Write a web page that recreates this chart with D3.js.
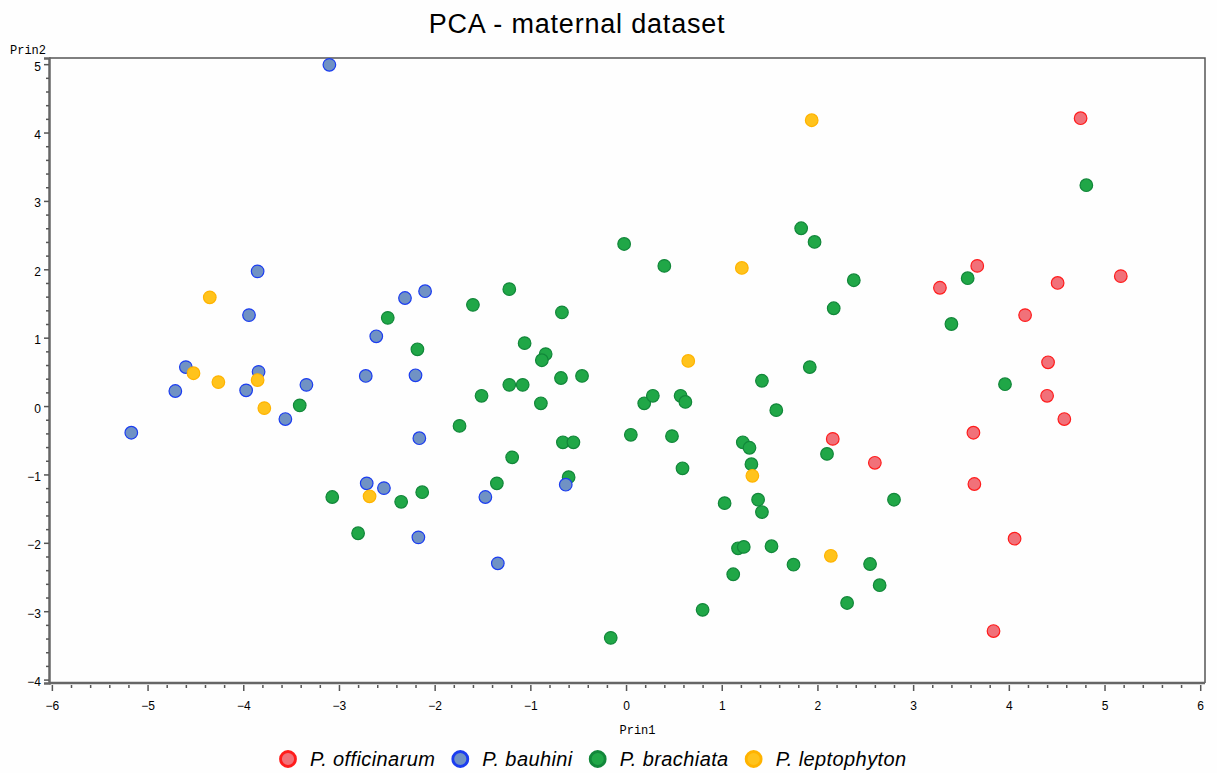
<!DOCTYPE html>
<html>
<head>
<meta charset="utf-8">
<script src="https://cdn.jsdelivr.net/npm/d3@7"></script>
<style>
  body { margin: 0; background: #fefefe; }
  svg { display: block; }
  .tick text { font-family: "Liberation Sans", Arial, sans-serif; font-size: 12px; fill: #000; }
  .axis-label { font-family: "Liberation Mono", monospace; font-size: 12px; fill: #000; }
  .legend text { font-family: "Liberation Sans", Arial, sans-serif; font-size: 20px; font-style: italic; letter-spacing: 0.4px; }
</style>
</head>
<body>
<script>

/*
 * Data.
 */

var species = ['P. officinarum', 'P. bauhini', 'P. brachiata', 'P. leptophyton'];

var officinarum = [
  [4.75, 4.21], [3.67, 2.05], [3.28, 1.73], [4.51, 1.80], [5.17, 1.90],
  [4.17, 1.33], [4.41, 0.64], [4.40, 0.15], [4.58, -0.19], [3.63, -0.39],
  [2.16, -0.48], [2.60, -0.83], [3.64, -1.14], [4.06, -1.94], [3.84, -3.29]
];

var bauhini = [
  [-3.10, 4.99], [-3.85, 1.97], [-3.94, 1.33], [-4.60, 0.57], [-4.71, 0.22],
  [-3.84, 0.50], [-3.97, 0.23], [-3.34, 0.31], [-3.56, -0.19], [-5.17, -0.39],
  [-2.10, 1.68], [-2.31, 1.58], [-2.61, 1.02], [-2.72, 0.44], [-2.20, 0.45],
  [-2.16, -0.47], [-2.71, -1.13], [-2.53, -1.20], [-2.17, -1.92], [-1.47, -1.33],
  [-1.34, -2.30], [-0.63, -1.15]
];

var brachiata = [
  [-3.41, 0.01], [-2.49, 1.29], [-2.18, 0.83], [-1.60, 1.48], [-1.22, 1.71],
  [-0.67, 1.37], [-1.06, 0.92], [-0.84, 0.76], [-0.88, 0.67], [-0.68, 0.41],
  [-0.46, 0.44], [-1.22, 0.31], [-1.08, 0.31], [-1.51, 0.15], [-0.89, 0.04],
  [-1.74, -0.29], [-0.66, -0.53], [-0.55, -0.53], [-1.19, -0.75], [-1.35, -1.13],
  [-0.60, -1.04], [-3.07, -1.33], [-2.80, -1.86], [-2.35, -1.40], [-2.13, -1.26],
  [-0.16, -3.39], [-0.02, 2.37], [0.40, 2.05], [0.19, 0.04], [0.28, 0.15],
  [0.05, -0.42], [0.57, 0.15], [0.62, 0.06], [0.48, -0.44], [0.59, -0.91],
  [0.80, -2.98], [1.03, -1.42], [1.12, -2.46], [1.17, -2.08], [1.23, -2.06],
  [1.22, -0.53], [1.29, -0.61], [1.31, -0.85], [1.38, -1.37], [1.42, -1.55],
  [1.52, -2.05], [1.42, 0.37], [1.57, -0.06], [1.75, -2.32], [1.92, 0.57],
  [1.83, 2.60], [1.97, 2.40], [2.38, 1.84], [2.17, 1.43], [2.10, -0.70],
  [2.80, -1.37], [2.55, -2.31], [2.65, -2.62], [2.31, -2.88], [3.57, 1.87],
  [3.40, 1.20], [3.96, 0.32], [4.81, 3.23]
];

var leptophyton = [
  [-4.35, 1.59], [-4.52, 0.48], [-4.26, 0.35], [-3.85, 0.38], [-3.78, -0.03],
  [-2.68, -1.32], [1.94, 4.18], [1.21, 2.02], [0.65, 0.66], [1.32, -1.02],
  [2.14, -2.19]
];

var xTicks = [-6, -5, -4, -3, -2, -1, 0, 1, 2, 3, 4, 5, 6];
var yTicks = [-4, -3, -2, -1, 0, 1, 2, 3, 4, 5];

// Fill and outline per species.
var fills = ['#f17179', '#7092c4', '#20a747', '#ffc31c'];
var strokes = ['#ff1c1c', '#1b3df0', '#12873a', '#ffb300'];

/*
 * Layout.
 */

var width = 1217, height = 773;
var plot = { left: 49, top: 58, right: 1205, bottom: 683 };

var svg = d3.select('body').append('svg')
  .attr('width', width)
  .attr('height', height);

var x = d3.scaleLinear().domain([-6.03, 6.05]).range([plot.left, plot.right]);
var y = d3.scaleLinear().domain([-4.05, 5.09]).range([plot.bottom, plot.top]);

// Title.
svg.append('text')
  .attr('x', 577)
  .attr('y', 33)
  .attr('text-anchor', 'middle')
  .style('font-family', '"Liberation Sans", Arial, sans-serif')
  .style('font-size', '27px')
  .style('letter-spacing', '0.8px')
  .text('PCA - maternal dataset');

// Frame: top and right edges.
svg.append('path')
  .attr('d', 'M' + plot.left + ',' + plot.top + 'H' + plot.right + 'V' + plot.bottom)
  .attr('fill', 'none')
  .attr('stroke', '#555')
  .attr('stroke-width', 1.5);

/*
 * Axes with minor ticks.
 */

var minorX = d3.range(-6, 6.001, 0.2).filter(function(v) { return Math.abs(v - Math.round(v)) > 0.01; });
var minorY = d3.range(-4, 5.001, 0.2).filter(function(v) { return Math.abs(v - Math.round(v)) > 0.01; });

var fmt = function(d) { return d < 0 ? '\u2212' + Math.abs(d) : String(d); };

var xAxis = svg.append('g')
  .attr('transform', 'translate(0,' + (plot.bottom + 2) + ')')
  .call(d3.axisBottom(x).tickValues(xTicks).tickFormat(fmt).tickSize(6).tickPadding(10));

svg.append('g')
  .attr('transform', 'translate(0,' + (plot.bottom + 2) + ')')
  .call(d3.axisBottom(x).tickValues(minorX).tickFormat('').tickSize(3))
  .select('.domain').remove();

var yAxis = svg.append('g')
  .attr('transform', 'translate(' + plot.left + ',0)')
  .call(d3.axisLeft(y).tickValues(yTicks).tickFormat(fmt).tickSize(5).tickPadding(3));

yAxis.selectAll('.tick text').attr('dy', '0.5em');

svg.append('g')
  .attr('transform', 'translate(' + plot.left + ',0)')
  .call(d3.axisLeft(y).tickValues(minorY).tickFormat('').tickSize(3))
  .select('.domain').remove();

svg.selectAll('.tick line').attr('stroke', '#555').attr('stroke-width', 1.5);
xAxis.select('.domain').remove();
yAxis.select('.domain').attr('stroke', '#666').attr('stroke-width', 2.5);

// Bottom axis line spans the frame.
svg.append('line')
  .attr('x1', plot.left).attr('x2', plot.right)
  .attr('y1', plot.bottom).attr('y2', plot.bottom)
  .attr('stroke', '#666')
  .attr('stroke-width', 2.5);

// Axis labels.
svg.append('text').attr('class', 'axis-label')
  .attr('x', 10).attr('y', 54)
  .text('Prin2');

svg.append('text').attr('class', 'axis-label')
  .attr('x', x(0.12)).attr('y', 734)
  .attr('text-anchor', 'middle')
  .text('Prin1');

/*
 * Points: drawn in order red, green, blue, orange.
 */

var groups = [
  { i: 0, data: officinarum },
  { i: 2, data: brachiata },
  { i: 1, data: bauhini },
  { i: 3, data: leptophyton }
];

groups.forEach(function(g) {
  svg.append('g').selectAll('circle')
    .data(g.data)
    .enter().append('circle')
    .attr('cx', function(d) { return x(d[0]); })
    .attr('cy', function(d) { return y(d[1]); })
    .attr('r', 6.3)
    .attr('fill', fills[g.i])
    .attr('stroke', strokes[g.i])
    .attr('stroke-width', 1.2);
});

/*
 * Legend.
 */

var legend = svg.append('g').attr('class', 'legend');
var cursor = 288;

species.forEach(function(name, i) {
  legend.append('circle')
    .attr('cx', cursor)
    .attr('cy', 759)
    .attr('r', 7.5)
    .attr('fill', fills[i])
    .attr('stroke', strokes[i])
    .attr('stroke-width', 2.8);

  var label = legend.append('text')
    .attr('x', cursor + 22)
    .attr('y', 766)
    .text(name);

  cursor += 22 + label.node().getComputedTextLength() + 25;
});

</script>
</body>
</html>
